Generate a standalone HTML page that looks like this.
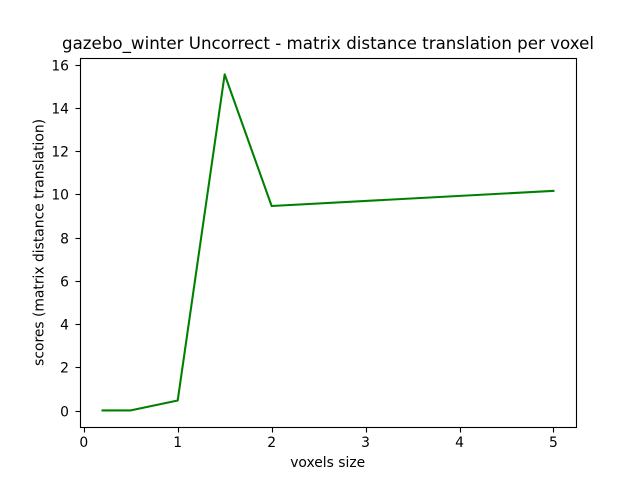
<!DOCTYPE html>
<html>
<head>
<meta charset="utf-8">
<title>gazebo_winter Uncorrect - matrix distance translation per voxel</title>
<style>
html,body{margin:0;padding:0;background:#fff;width:640px;height:480px;overflow:hidden}
svg{display:block}
text{font-family:"DejaVu Sans",sans-serif;fill:#000}
</style>
</head>
<body>
<svg id="chart" xmlns="http://www.w3.org/2000/svg" width="640" height="480" viewBox="0 0 640 480">
  <rect x="0" y="0" width="640" height="480" fill="#ffffff"/>
  <g id="ticks"></g>
  <polyline id="series" fill="none" stroke="#008000" stroke-width="2.08" stroke-linejoin="round" stroke-linecap="square"></polyline>
  <rect x="80.5" y="58.5" width="496" height="369" fill="none" stroke="#000" stroke-width="1.11"/>
  <text x="328" y="49" font-size="16.67" text-anchor="middle" textLength="532" lengthAdjust="spacing">gazebo_winter Uncorrect - matrix distance translation per voxel</text>
  <text x="327.7" y="467" font-size="13.89" text-anchor="middle" textLength="75" lengthAdjust="spacing">voxels size</text>
  <text transform="translate(43.5 242.4) rotate(-90)" font-size="13.89" text-anchor="middle" textLength="247" lengthAdjust="spacing">scores (matrix distance translation)</text>
</svg>
<script>
const voxelSizes = [0.2, 0.5, 1, 1.5, 2, 5];
const scores = [0.03, 0.03, 0.49, 15.58, 9.49, 10.19];
const xTickLabels = [0, 1, 2, 3, 4, 5];
const yTickLabels = [0, 2, 4, 6, 8, 10, 12, 14, 16];

const NS = 'http://www.w3.org/2000/svg';
const left = 80, right = 576, top_ = 57.6, bottom = 427.2;

function extent(values) {
  const lo = Math.min(...values), hi = Math.max(...values);
  const pad = (hi - lo) * 0.05 || 0.5;
  return [lo - pad, hi + pad];
}
const xDomain = extent(voxelSizes);
const yDomain = extent(scores);
function xScale(v) { return left + (v - xDomain[0]) / (xDomain[1] - xDomain[0]) * (right - left); }
function yScale(v) { return bottom - (v - yDomain[0]) / (yDomain[1] - yDomain[0]) * (bottom - top_); }

document.getElementById('series').setAttribute('points',
  voxelSizes.map((v, i) => xScale(v).toFixed(2) + ',' + yScale(scores[i]).toFixed(2)).join(' '));

const tickGroup = document.getElementById('ticks');

xTickLabels.forEach(function (t) {
  const x = Math.round(xScale(t)) + 0.5;
  const mark = document.createElementNS(NS, 'line');
  
  
  mark.setAttribute('x1', x);
  mark.setAttribute('x2', x);
  mark.setAttribute('y1', 427.5);
  mark.setAttribute('y2', 432.5);
  mark.setAttribute('stroke', '#000');
  mark.setAttribute('stroke-width', '1.11');
  tickGroup.appendChild(mark);
  const label = document.createElementNS(NS, 'text');
  
  
  label.setAttribute('x', xScale(t));
  label.setAttribute('y', 447);
  label.setAttribute('font-size', '13.89');
  label.setAttribute('text-anchor', 'middle');
  label.textContent = t;
  tickGroup.appendChild(label);
});

yTickLabels.forEach(function (t) {
  const y = Math.floor(yScale(t)) + 0.5;
  const mark = document.createElementNS(NS, 'line');
  
  
  mark.setAttribute('x1', 75.5);
  mark.setAttribute('x2', 80.5);
  mark.setAttribute('y1', y);
  mark.setAttribute('y2', y);
  mark.setAttribute('stroke', '#000');
  mark.setAttribute('stroke-width', '1.11');
  tickGroup.appendChild(mark);
  const label = document.createElementNS(NS, 'text');
  
  
  label.setAttribute('x', 69);
  label.setAttribute('y', y + 4.9);
  label.setAttribute('font-size', '13.89');
  label.setAttribute('text-anchor', 'end');
  label.textContent = t;
  tickGroup.appendChild(label);
});
</script>
</body>
</html>
